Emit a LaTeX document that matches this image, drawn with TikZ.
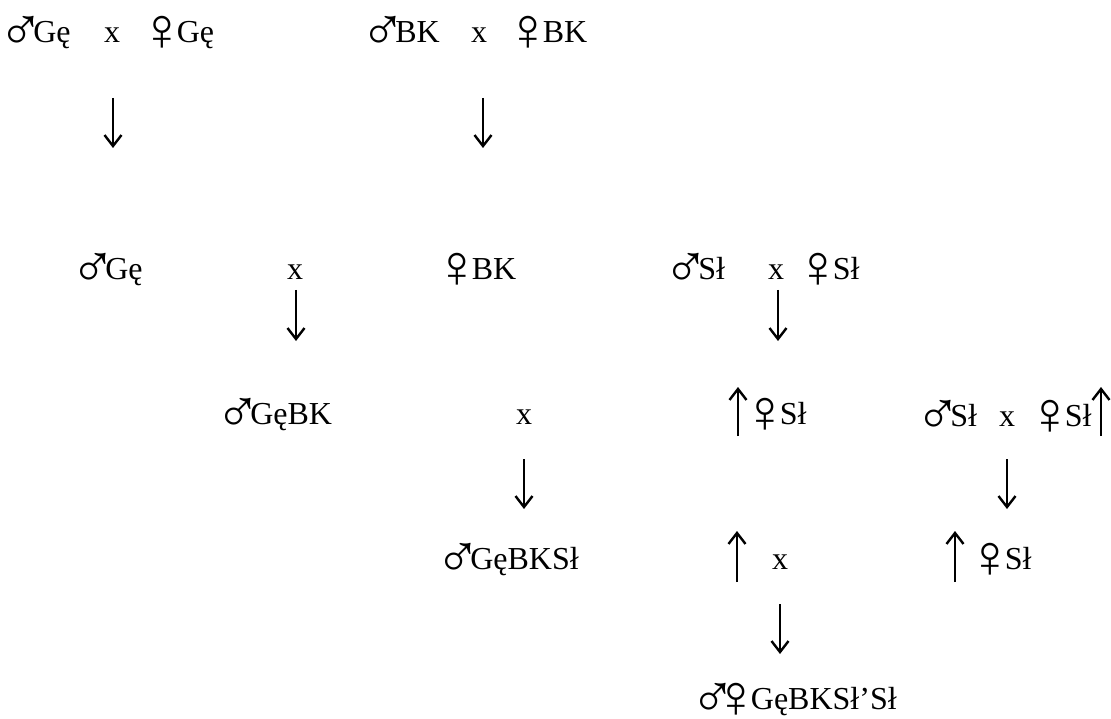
\documentclass[tikz,border=0pt]{standalone}
\usepackage{fontspec}
\setmainfont{Liberation Serif}
\newfontfamily\symfont[Scale=1.9]{Liberation Serif}
\newcommand{\ma}{\hspace*{-10pt}\raisebox{-8pt}{\symfont ♂}\hspace*{-10.5pt}}
\newcommand{\fe}{\hspace*{-13pt}\raisebox{-8pt}{\symfont ♀}\hspace*{-8pt}}
\usetikzlibrary{arrows.meta}
\begin{document}
\begin{tikzpicture}[x=1pt,y=-1pt,
  lbl/.style={anchor=base west,inner sep=0pt,font=\fontsize{32}{38}\selectfont},
  cx/.style={anchor=base,inner sep=0pt,font=\fontsize{32}{38}\selectfont},
  arr/.style={line width=2.4pt,-{Straight Barb[length=11pt,width=17pt,line width=2.4pt]}}]
\useasboundingbox (0,0) rectangle (1111,719);
% row 1
\node[lbl] (a1) at (8,43) {\ma Gę};
\node[cx]  (a2) at (112,43) {x};
\node[lbl] (a3) at (152,43) {\fe Gę};
\node[lbl] (b1) at (370,43) {\ma BK};
\node[cx]  (b2) at (479,43) {x};
\node[lbl] (b3) at (518,43) {\fe BK};
\coordinate (p1s) at (113,98);  \coordinate (p1e) at (113,148);
\coordinate (p2s) at (483,98);  \coordinate (p2e) at (483,148);
\draw[arr] (p1s) -- (p1e);
\draw[arr] (p2s) -- (p2e);
% row 2
\node[lbl] (c1) at (80,280) {\ma Gę};
\node[cx]  (c2) at (295,280) {x};
\node[lbl] (c3) at (447,280) {\fe BK};
\node[lbl] (d1) at (673,280) {\ma Sł};
\node[cx]  (d2) at (776,280) {x};
\node[lbl] (d3) at (808,280) {\fe Sł};
\coordinate (p3s) at (296,290); \coordinate (p3e) at (296,341);
\coordinate (p4s) at (778,290); \coordinate (p4e) at (778,341);
\draw[arr] (p3s) -- (p3e);
\draw[arr] (p4s) -- (p4e);
% row 3
\node[lbl] (e1) at (225,424) {\ma GęBK};
\node[cx]  (e2) at (524,424) {x};
\node[lbl] (e3) at (755,424) {\fe Sł};
\node[lbl] (f1) at (925,426) {\ma Sł};
\node[cx]  (f2) at (1007,426) {x};
\node[lbl] (f3) at (1040,426) {\fe Sł};
\coordinate (u1s) at (738,436); \coordinate (u1e) at (738,387);
\coordinate (u2s) at (1101,436); \coordinate (u2e) at (1101,387);
\draw[arr] (u1s) -- (u1e);
\draw[arr] (u2s) -- (u2e);
\coordinate (p5s) at (524,459); \coordinate (p5e) at (524,509);
\coordinate (p6s) at (1007,459); \coordinate (p6e) at (1007,509);
\draw[arr] (p5s) -- (p5e);
\draw[arr] (p6s) -- (p6e);
% row 4
\node[lbl] (g1) at (445,569) {\ma GęBKSł};
\node[cx]  (g2) at (780,569) {x};
\node[lbl] (g3) at (980,569) {\fe Sł};
\coordinate (u3s) at (737,582); \coordinate (u3e) at (737,531);
\coordinate (u4s) at (955,582); \coordinate (u4e) at (955,531);
\draw[arr] (u3s) -- (u3e);
\draw[arr] (u4s) -- (u4e);
\coordinate (p7s) at (780,604); \coordinate (p7e) at (780,654);
\draw[arr] (p7s) -- (p7e);
% row 5
\node[lbl] (h1) at (700,709) {\ma\hspace*{1pt}\fe GęBKSł’Sł};
\end{tikzpicture}
\end{document}
